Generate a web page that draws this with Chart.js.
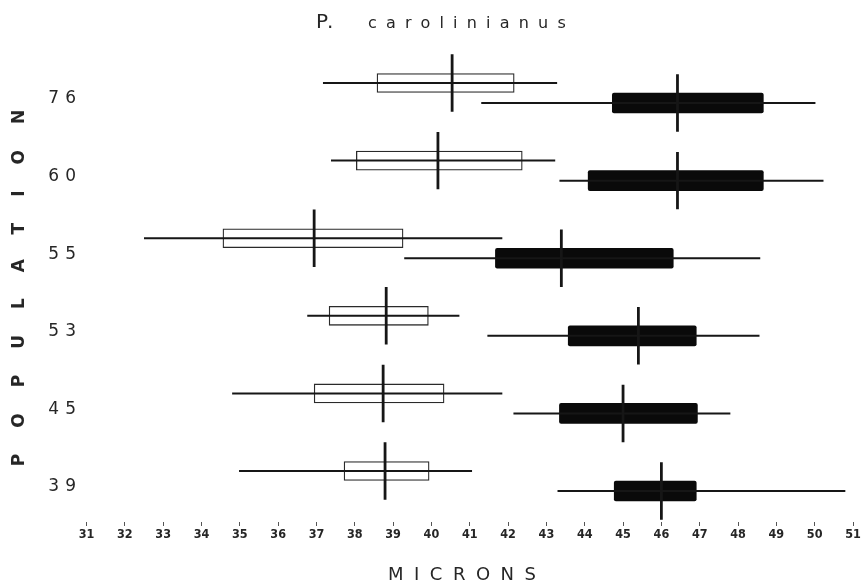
<!DOCTYPE html>
<html><head><meta charset="utf-8">
<script src="https://cdn.jsdelivr.net/npm/chart.js@4"></script>
<style>html,body{margin:0;padding:0;background:#fff}canvas{display:block}</style>
</head><body>
<canvas id="c" width="863" height="588"></canvas>
<script>
// ---- data (microns) ----
const populations = ['76', '60', '55', '53', '45', '39'];
const xTickValues = [31, 32, 33, 34, 35, 36, 37, 38, 39, 40, 41, 42, 43, 44, 45, 46, 47, 48, 49, 50, 51];

// open (white) boxes
const openMin = [37.17, 37.38, 32.50, 36.76, 34.80, 34.98];
const openQ1  = [38.58, 38.04, 34.56, 37.33, 36.94, 37.72];
const openMid = [40.54, 40.17, 36.94, 38.82, 38.74, 38.79];
const openQ3  = [42.16, 42.37, 39.26, 39.92, 40.33, 39.94];
const openMax = [43.28, 43.23, 41.85, 40.73, 41.85, 41.06];

// filled (black) boxes
const filledMin = [41.30, 43.34, 39.29, 41.46, 42.14, 43.29];
const filledQ1  = [44.72, 44.09, 41.67, 43.57, 43.34, 44.77];
const filledMid = [46.42, 46.42, 43.39, 45.40, 45.00, 46.00];
const filledQ3  = [48.66, 48.66, 46.31, 46.91, 46.94, 46.91];
const filledMax = [50.02, 50.23, 48.58, 48.56, 47.80, 50.80];

// ---- layout constants ----
const W = 863, H = 588;
const AREA = { top: 40, bottom: 522, left: 86.5, right: 853 };
const LABEL0 = 99, STEP = 77.6;           // pixel of first category, px per category
const ROW_OPEN = -0.206, ROW_FILLED = 0.052, MED_HALF = 0.37;
const INK = '#161616';
const TEXT = '#262626';

function boxes(q1, q3, off) { return q1.map((v, i) => ({ x: [v, q3[i]], y: i + off })); }
function whiskers(lo, hi, off) {
  const d = [];
  lo.forEach((v, i) => { d.push({ x: v, y: i + off }, { x: hi[i], y: i + off }, { x: null, y: null }); });
  return d;
}
function medians(mid, off) {
  const d = [];
  mid.forEach((v, i) => { d.push({ x: v, y: i + off - MED_HALF }, { x: v, y: i + off + MED_HALF }, { x: null, y: null }); });
  return d;
}

function spacedText(ctx, text, x, y, ls, align) {
  ctx.save();
  ctx.textAlign = 'left';
  if ('letterSpacing' in ctx) {
    ctx.letterSpacing = ls + 'px';
    const w = ctx.measureText(text).width - ls;
    const x0 = align === 'center' ? x - w / 2 : align === 'right' ? x - w : x;
    ctx.fillText(text, x0, y);
  } else {
    const chars = [...text];
    const ws = chars.map(c => ctx.measureText(c).width);
    const w = ws.reduce((a, b) => a + b, 0) + ls * (chars.length - 1);
    let x0 = align === 'center' ? x - w / 2 : align === 'right' ? x - w : x;
    chars.forEach((c, i) => { ctx.fillText(c, x0, y); x0 += ws[i] + ls; });
  }
  ctx.restore();
}

const textPlugin = {
  id: 'texts',
  afterDraw(chart) {
    const ctx = chart.ctx;
    const ys = chart.scales.y;
    ctx.save();
    ctx.fillStyle = TEXT;
    // title
    ctx.textBaseline = 'alphabetic';
    ctx.font = '20px "DejaVu Sans"';
    spacedText(ctx, 'P.', 316, 28, 2, 'left');
    ctx.font = '16px "DejaVu Sans"';
    spacedText(ctx, 'carolinianus', 368, 28, 9.2, 'left');
    // category labels
    ctx.textBaseline = 'middle';
    ctx.font = '17px "DejaVu Sans"';
    populations.forEach((p, i) => {
      spacedText(ctx, p, 76, ys.getPixelForValue(i), 6, 'right');
    });
    // y axis title
    ctx.save();
    ctx.translate(20, 288);
    ctx.rotate(-Math.PI / 2);
    ctx.font = 'bold 17px "DejaVu Sans"';
    spacedText(ctx, 'POPULATION', 0, 0, 26, 'center');
    ctx.restore();
    // x axis title
    ctx.textBaseline = 'alphabetic';
    ctx.font = '18px "DejaVu Sans"';
    spacedText(ctx, 'MICRONS', 462, 580, 10.5, 'center');
    ctx.restore();
  }
};

new Chart(document.getElementById('c'), {
  type: 'bar',
  data: {
    datasets: [
      { type: 'bar', label: 'open', data: boxes(openQ1, openQ3, ROW_OPEN),
        backgroundColor: '#ffffff', borderColor: '#2a2a2a', borderWidth: 1.3, borderSkipped: false,
        barThickness: 19, grouped: false, order: 3 },
      { type: 'bar', label: 'filled', data: boxes(filledQ1, filledQ3, ROW_FILLED),
        backgroundColor: '#0a0a0a', borderWidth: 0, borderRadius: 2, borderSkipped: false,
        barThickness: 20, grouped: false, order: 3 },
      { type: 'line', label: 'open range', data: whiskers(openMin, openMax, ROW_OPEN),
        borderColor: INK, borderWidth: 2, pointRadius: 0, spanGaps: false, fill: false, order: 2 },
      { type: 'line', label: 'filled range', data: whiskers(filledMin, filledMax, ROW_FILLED),
        borderColor: INK, borderWidth: 2, pointRadius: 0, spanGaps: false, fill: false, order: 2 },
      { type: 'line', label: 'open mid', data: medians(openMid, ROW_OPEN),
        borderColor: INK, borderWidth: 2.8, pointRadius: 0, spanGaps: false, fill: false, order: 1 },
      { type: 'line', label: 'filled mid', data: medians(filledMid, ROW_FILLED),
        borderColor: INK, borderWidth: 2.8, pointRadius: 0, spanGaps: false, fill: false, order: 1 }
    ]
  },
  options: {
    indexAxis: 'y',
    responsive: false,
    animation: false,
    layout: { padding: { top: AREA.top, right: W - AREA.right, bottom: 0, left: 0 } },
    plugins: { legend: { display: false }, tooltip: { enabled: false }, title: { display: false } },
    scales: {
      x: {
        type: 'linear', position: 'bottom', min: 31, max: 51, offset: false,
        afterBuildTicks: s => { s.ticks = xTickValues.map(v => ({ value: v })); },
        afterFit: s => { s.height = H - AREA.bottom; },
        ticks: { autoSkip: false, maxRotation: 0, padding: 1, color: TEXT,
          font: { family: '"Liberation Sans Narrow", "DejaVu Sans Condensed", sans-serif', size: 12.5, weight: 'bold' } },
        grid: { drawOnChartArea: false, drawTicks: true, tickLength: 4, color: '#555', lineWidth: 1 },
        border: { display: false }
      },
      y: {
        type: 'linear', reverse: true, offset: false,
        min: (AREA.top - LABEL0) / STEP, max: (AREA.bottom - LABEL0) / STEP,
        afterFit: s => { s.width = AREA.left; },
        ticks: { display: false },
        grid: { display: false },
        border: { display: false }
      }
    }
  },
  plugins: [textPlugin]
});
</script>
</body></html>
